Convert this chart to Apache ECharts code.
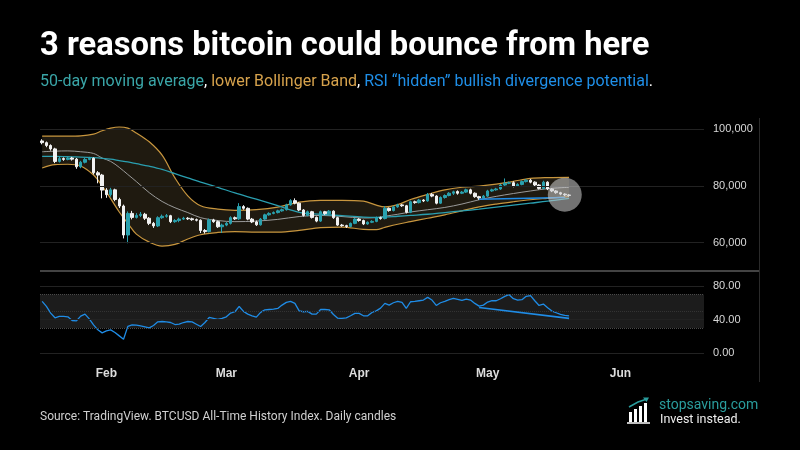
<!DOCTYPE html>
<html lang="en">
<head>
  <meta charset="UTF-8">
  <title>3 reasons bitcoin could bounce from here</title>
  <script src="https://cdn.jsdelivr.net/npm/echarts@6/dist/echarts.min.js"></script>
  <style>
    html, body { margin: 0; background: #000; }
    #main { width: 800px; height: 450px; }
  </style>
</head>
<body>
  <div id="main"></div>

  <script>
    // Daily BTCUSD candles, prices in thousands of USD, first candle 2026-01-17
    const firstDay = '2026-01-17';
    const dayCount = 155; // axis runs on to Jun 20
    const monthNames = ['Jan', 'Feb', 'Mar', 'Apr', 'May', 'Jun', 'Jul', 'Aug', 'Sep', 'Oct', 'Nov', 'Dec'];

    const openK = [95.8, 95.2, 94.2, 93.0, 88.6, 89.6, 89.3, 89.8, 89.4, 86.7,
      88.3, 89.3, 89.7, 84.6, 83.8, 78.5, 76.9, 78.6, 75.2, 72.9,
      62.7, 70.3, 68.9, 69.6, 70.0, 68.6, 66.8, 65.9, 68.8, 69.3,
      69.5, 67.4, 67.8, 68.3, 68.6, 68.4, 68.1, 67.9, 64.3, 63.9,
      68.0, 67.4, 65.6, 66.2, 66.8, 68.8, 68.4, 72.7, 72.1, 68.3,
      67.3, 66.3, 68.3, 69.8, 70.3, 70.6, 71.2, 71.6, 73.3, 74.8,
      73.9, 71.5, 69.6, 70.9, 68.9, 67.6, 70.9, 70.2, 71.1, 68.8,
      66.2, 66.0, 65.7, 66.8, 68.3, 67.8, 66.6, 67.2, 67.5, 68.8,
      68.5, 72.1, 71.3, 72.6, 73.3, 73.0, 70.7, 74.4, 74.1, 75.0,
      74.7, 77.0, 76.4, 73.9, 75.9, 76.6, 77.4, 78.0, 77.4, 77.8,
      78.6, 77.4, 76.2, 75.7, 76.4, 78.2, 78.6, 78.9, 80.3, 80.9,
      81.1, 79.9, 80.5, 81.5, 82.0, 81.3, 80.3, 79.1, 81.3, 78.9,
      78.2, 77.6, 77.1, 76.8];
    const closeK = [95.2, 94.2, 93.0, 88.6, 89.6, 89.3, 89.8, 89.4, 86.7, 88.3,
      89.3, 89.7, 84.6, 83.8, 78.5, 76.9, 78.6, 75.2, 72.9, 62.7,
      70.3, 68.9, 69.6, 70.0, 68.6, 66.8, 65.9, 68.8, 69.3, 69.5,
      67.4, 67.8, 68.3, 68.6, 68.4, 68.1, 67.9, 64.3, 63.9, 68.0,
      67.4, 65.6, 66.2, 66.8, 68.8, 68.4, 72.7, 72.1, 68.3, 67.3,
      66.3, 68.3, 69.8, 70.3, 70.6, 71.2, 71.6, 73.3, 74.8, 73.9,
      71.5, 69.6, 70.9, 68.9, 67.6, 70.9, 70.2, 71.1, 68.8, 66.2,
      66.0, 65.7, 66.8, 68.3, 67.8, 66.6, 67.2, 67.5, 68.8, 68.5,
      72.1, 71.3, 72.6, 73.3, 73.0, 70.7, 74.4, 74.1, 75.0, 74.7,
      77.0, 76.4, 73.9, 75.9, 76.6, 77.4, 77.9, 77.4, 77.8, 78.6,
      77.4, 76.2, 75.7, 76.4, 78.2, 78.6, 78.9, 80.3, 80.9, 81.1,
      79.9, 80.5, 81.5, 82.0, 81.3, 80.3, 79.1, 81.3, 78.9, 78.2,
      77.6, 77.1, 76.8, 76.6];
    const lowK = [94.6, 93.6, 92.4, 88.0, 88.2, 88.8, 89.0, 88.9, 86.0, 86.2,
      87.9, 89.0, 84.0, 80.9, 75.6, 75.8, 76.2, 74.6, 72.2, 61.5,
      59.8, 68.2, 68.5, 69.0, 68.0, 66.2, 65.2, 65.5, 68.4, 68.8,
      66.9, 67.0, 67.2, 68.0, 68.0, 67.7, 67.5, 63.4, 63.2, 63.6,
      67.0, 65.2, 63.4, 65.8, 66.4, 68.0, 68.0, 71.6, 67.9, 66.9,
      65.9, 66.0, 68.0, 69.5, 70.0, 70.3, 70.9, 71.3, 73.0, 73.5,
      71.1, 69.2, 69.3, 68.5, 67.2, 67.3, 69.8, 69.9, 68.4, 65.9,
      65.6, 65.2, 65.4, 66.5, 67.4, 66.2, 66.3, 66.9, 67.2, 68.1,
      68.2, 70.9, 71.0, 72.3, 72.6, 70.3, 70.4, 73.7, 73.8, 74.3,
      74.4, 76.0, 73.5, 73.6, 75.5, 76.3, 76.8, 76.9, 77.1, 77.5,
      77.0, 75.8, 75.1, 75.4, 76.1, 77.9, 78.3, 78.6, 80.0, 80.6,
      79.5, 79.6, 80.2, 81.2, 80.9, 79.9, 78.7, 78.8, 78.5, 77.8,
      77.2, 76.7, 76.4, 76.2];
    const highK = [96.4, 95.6, 94.6, 93.4, 90.2, 90.0, 90.3, 90.2, 89.8, 88.8,
      89.8, 90.2, 90.0, 85.2, 84.2, 79.2, 79.3, 79.0, 75.8, 73.4,
      71.0, 71.2, 70.4, 70.8, 70.5, 69.0, 67.3, 69.3, 69.9, 70.1,
      69.8, 68.3, 68.8, 69.1, 69.0, 68.8, 68.5, 68.2, 64.8, 68.5,
      68.4, 67.8, 66.7, 67.3, 69.3, 69.2, 73.9, 73.2, 72.4, 68.7,
      67.8, 68.7, 70.2, 70.7, 71.0, 71.6, 72.0, 73.7, 75.3, 75.6,
      74.2, 71.8, 71.3, 71.2, 69.2, 71.3, 71.2, 71.5, 71.4, 69.1,
      66.6, 66.3, 67.1, 68.7, 68.6, 68.1, 67.5, 67.9, 69.2, 69.2,
      72.9, 72.4, 73.0, 73.7, 73.6, 73.3, 74.8, 74.8, 75.4, 75.3,
      77.5, 77.5, 76.7, 76.3, 77.0, 77.8, 78.3, 78.4, 78.2, 79.0,
      79.0, 77.7, 76.5, 76.8, 78.6, 79.0, 79.3, 80.7, 82.6, 81.5,
      81.6, 80.9, 81.9, 82.4, 82.4, 81.6, 80.6, 81.8, 81.6, 79.2,
      78.5, 77.9, 77.4, 77.1];

    // RSI(14), one value per candle
    const rsi = [61.7, 55.7, 47.8, 42.2, 43.8, 43.8, 43.4, 39.0, 38.6, 44.2,
      46.6, 41.0, 33.8, 27.9, 24.3, 26.7, 27.9, 24.7, 20.7, 16.7,
      32.0, 33.8, 33.4, 32.6, 31.4, 30.2, 33.0, 37.4, 37.8, 37.4,
      36.6, 34.2, 34.6, 36.6, 37.8, 37.4, 34.6, 31.8, 36.6, 42.6,
      41.4, 40.2, 41.4, 43.4, 47.8, 49.4, 55.7, 49.8, 46.6, 44.6,
      43.0, 48.6, 51.7, 52.1, 52.5, 53.3, 57.3, 60.5, 61.7, 59.3,
      50.5, 49.4, 49.8, 46.6, 46.6, 52.1, 52.1, 51.7, 46.2, 41.8,
      41.4, 42.2, 44.6, 47.4, 47.4, 44.6, 44.6, 48.6, 50.5, 53.7,
      59.3, 57.3, 60.1, 61.7, 60.5, 53.3, 61.3, 61.7, 62.5, 63.3,
      66.5, 63.3, 56.9, 60.1, 61.7, 63.7, 65.3, 64.1, 62.9, 64.5,
      63.3, 59.3, 56.1, 57.3, 60.9, 62.5, 62.5, 64.9, 67.7, 69.7,
      64.9, 63.3, 63.7, 67.7, 68.5, 62.5, 56.9, 58.5, 54.1, 50.2,
      48.2, 46.2, 45.0, 44.6];

    // Bollinger band and moving averages, read at these candle indexes
    const sampleIdx = [0, 3, 6, 9, 12, 14, 16, 18, 20, 22, 25, 28, 31, 34, 37, 41, 45, 50,
      55, 60, 65, 70, 75, 78, 80, 83, 86, 90, 94, 98, 102, 106, 110, 114, 118, 123];
    const upperBand = [97.5, 97.5, 97.5, 97.6, 98.2, 99.4, 100.3, 100.7, 100.3, 98.6, 95.5, 90.8,
      82.8, 76.5, 73.0, 71.8, 71.4, 71.6, 72.5, 74.3, 74.9, 74.9, 74.6, 73.2, 72.6, 73.4,
      75.2, 77.0, 78.6, 79.5, 79.9, 80.6, 81.6, 82.6, 82.9, 83.0];
    const middleBand = [92.0, 92.2, 92.3, 92.0, 91.4, 89.8, 88.6, 86.5, 84.0, 81.5, 77.6, 74.5,
      72.3, 70.6, 68.8, 67.8, 67.4, 67.6, 68.2, 69.2, 69.6, 69.2, 68.7, 68.8, 69.3, 70.0,
      70.8, 71.6, 72.4, 73.6, 75.1, 76.3, 77.3, 78.2, 79.0, 79.5];
    const lowerBand = [86.3, 87.5, 87.6, 87.0, 83.8, 80.0, 75.5, 70.8, 66.8, 63.0, 60.2, 58.8,
      59.4, 61.3, 62.8, 63.6, 63.9, 63.7, 63.7, 64.3, 65.3, 65.5, 64.7, 64.6, 65.4, 66.5,
      67.4, 68.6, 69.8, 71.2, 72.6, 73.6, 74.4, 75.1, 75.6, 76.2];
    const ma50 = [90.4, 90.4, 90.3, 90.1, 89.9, 89.7, 89.4, 88.9, 88.4, 87.8, 86.9, 85.8,
      84.3, 82.8, 81.3, 79.5, 77.5, 75.3, 73.0, 70.7, 70.0, 69.5, 69.0, 68.9, 69.0, 69.3,
      69.6, 70.0, 70.6, 71.2, 71.8, 72.5, 73.2, 73.9, 74.6, 75.6];

    // hidden divergence trend lines and the highlight circle
    const priceDivIdx = [102, 122];
    const priceDivK = [75.3, 75.9];
    const rsiDivIdx = [102, 123];
    const rsiDiv = [54.5, 41.5];
    const circleIdx = 122;
    const circleK = 76.9;

    const priceTicks = [60, 80, 100];
    const rsiTicks = [0, 40, 80];

    // build the day categories
    const days = [];
    const d0 = new Date(firstDay + 'T00:00:00Z');
    for (let i = 0; i < dayCount; i++) {
      days.push(new Date(d0.getTime() + i * 86400000).toISOString().slice(0, 10));
    }

    const candles = openK.map((o, i) => [o, closeK[i], lowK[i], highK[i]]);
    const pairs = vals => sampleIdx.map((d, k) => [d, vals[k]]);
    const bandWidth = sampleIdx.map((d, k) => [d, upperBand[k] - lowerBand[k]]);

    const gold = '#c8963e';
    const teal = '#2a9fb0';
    const blue = '#1f8ce6';
    const gridLine = { color: '#222', type: 'solid', width: 1 };

    let myChart = echarts.init(document.getElementById('main'));

    const options = {
      backgroundColor: '#000',
      animation: false,
      grid: [
        { left: 40, right: 96, top: 114.8, height: 142.1 },
        { left: 40, right: 96, top: 269.2, height: 92.5 }
      ],
      xAxis: [
        { type: 'category', gridIndex: 0, data: days, show: false },
        {
          type: 'category', gridIndex: 1, data: days,
          axisLine: { show: false }, axisTick: { show: false },
          axisLabel: {
            interval: (i, v) => v.slice(8) === '01',
            formatter: v => monthNames[+v.slice(5, 7) - 1],
            color: '#ddd', fontSize: 12, fontWeight: 'bold',
            fontFamily: 'Liberation Sans', margin: 6
          }
        }
      ],
      yAxis: [
        {
          type: 'value', gridIndex: 0, position: 'right',
          min: 55, max: 105, interval: 5,
          splitLine: { show: false }, axisLine: { show: false }, axisTick: { show: false },
          axisLabel: {
            formatter: v => priceTicks.includes(v) ? (v * 1000).toLocaleString('en-US') : '',
            color: '#d8d8d8', fontSize: 11, fontFamily: 'Liberation Sans', margin: 9
          }
        },
        {
          type: 'value', gridIndex: 1, position: 'right',
          min: -10, max: 100, interval: 10,
          splitLine: { show: false }, axisLine: { show: false }, axisTick: { show: false },
          axisLabel: {
            formatter: v => rsiTicks.includes(v) ? v.toFixed(2) : '',
            color: '#d8d8d8', fontSize: 11, fontFamily: 'Liberation Sans', margin: 9
          }
        }
      ],
      series: [
        {
          name: 'Lower band', type: 'line', data: pairs(lowerBand), stack: 'bb', z: 1,
          smooth: 0.35, symbol: 'none', lineStyle: { color: gold, width: 1.2 }
        },
        {
          name: 'Upper band', type: 'line', data: bandWidth, stack: 'bb', z: 1,
          smooth: 0.35, symbol: 'none', lineStyle: { color: gold, width: 1.2 },
          areaStyle: { color: '#1f1a10', opacity: 1 }
        },
        {
          name: 'Basis', type: 'line', data: pairs(middleBand), z: 3,
          smooth: 0.35, symbol: 'none', lineStyle: { color: '#9a9a9a', width: 1 }
        },
        {
          name: '50-day MA', type: 'line', data: pairs(ma50), z: 3,
          smooth: 0.35, symbol: 'none', lineStyle: { color: teal, width: 1.3 }
        },
        {
          name: 'BTCUSD', type: 'candlestick', data: candles, barWidth: '70%', z: 4,
          itemStyle: {
            color: '#2aa1ae', color0: '#f2f2f2',
            borderColor: '#2aa1ae', borderColor0: '#f2f2f2', borderWidth: 1
          },
          markLine: {
            silent: true, symbol: ['none', 'none'], label: { show: false },
            lineStyle: gridLine,
            data: priceTicks.map(v => ({ yAxis: v }))
          }
        },
        {
          name: 'Price divergence', type: 'line', symbol: 'none', z: 5,
          data: priceDivIdx.map((d, k) => [d, priceDivK[k]]),
          lineStyle: { color: blue, width: 1.6 }
        },
        {
          name: 'Highlight', type: 'scatter', symbolSize: 34, z: 10,
          data: [[circleIdx, circleK]],
          itemStyle: { color: 'rgba(200,200,200,0.72)' }
        },
        {
          name: 'RSI', type: 'line', xAxisIndex: 1, yAxisIndex: 1, data: rsi, z: 4,
          symbol: 'none', lineStyle: { color: blue, width: 1.3 },
          markArea: {
            silent: true, itemStyle: { color: '#1c1c1c' },
            data: [[{ yAxis: 30 }, { yAxis: 70 }]]
          },
          markLine: {
            silent: true, symbol: ['none', 'none'], label: { show: false },
            data: [
              ...rsiTicks.map(v => ({ yAxis: v, lineStyle: gridLine })),
              { yAxis: 70, lineStyle: { color: '#4a4a4a', type: 'dotted', width: 1 } },
              { yAxis: 30, lineStyle: { color: '#4a4a4a', type: 'dotted', width: 1 } },
              { yAxis: 50, lineStyle: { color: '#333', type: 'dotted', width: 1 } }
            ]
          }
        },
        {
          name: 'RSI divergence', type: 'line', xAxisIndex: 1, yAxisIndex: 1, symbol: 'none', z: 5,
          data: rsiDivIdx.map((d, k) => [d, rsiDiv[k]]),
          lineStyle: { color: blue, width: 1.6 }
        }
      ],
      graphic: [
        {
          type: 'text', x: 40, y: 47,
          style: {
            text: '3 reasons bitcoin could bounce from here', fill: '#fff',
            font: 'bold 32.7px Roboto', textVerticalAlign: 'middle'
          }
        },
        {
          type: 'text', x: 40, y: 82,
          style: {
            text: '{t|50-day moving average}{w|, }{g|lower Bollinger Band}{w|, }{b|RSI \u201chidden\u201d bullish divergence potential}{w|.}',
            textVerticalAlign: 'middle',
            rich: {
              t: { fill: '#3aa6a8', fontSize: 16, fontFamily: 'Roboto' },
              w: { fill: '#fff', fontSize: 16, fontFamily: 'Roboto' },
              g: { fill: '#d6a24c', fontSize: 16, fontFamily: 'Roboto' },
              b: { fill: '#1f8fe8', fontSize: 16, fontFamily: 'Roboto' }
            }
          }
        },
        {
          type: 'text', x: 40, y: 417,
          style: {
            text: 'Source: TradingView. BTCUSD All-Time History Index. Daily candles',
            fill: '#d0d0d0', font: '12px Roboto', textVerticalAlign: 'middle'
          }
        },
        // pane borders
        { type: 'line', shape: { x1: 40, y1: 271, x2: 760, y2: 271 }, style: { stroke: '#5a5a5a', lineWidth: 1.5 } },
        { type: 'line', shape: { x1: 759.5, y1: 118, x2: 759.5, y2: 382 }, style: { stroke: '#2a2a2a', lineWidth: 1 } },
        // stopsaving.com logo
        { type: 'rect', shape: { x: 629, y: 412, width: 3, height: 10 }, style: { fill: '#fff' } },
        { type: 'rect', shape: { x: 634, y: 409, width: 3, height: 13 }, style: { fill: '#fff' } },
        { type: 'rect', shape: { x: 639, y: 406, width: 3, height: 16 }, style: { fill: '#fff' } },
        { type: 'rect', shape: { x: 644, y: 403, width: 3, height: 19 }, style: { fill: '#fff' } },
        { type: 'line', shape: { x1: 627, y1: 423, x2: 650, y2: 423 }, style: { stroke: '#fff', lineWidth: 1.5 } },
        { type: 'polyline', shape: { points: [[629, 407], [638, 402], [647, 399]] }, style: { stroke: '#2a9d9d', lineWidth: 1.5, fill: null } },
        { type: 'polygon', shape: { points: [[649, 397.5], [643, 397.5], [646.5, 402]] }, style: { fill: '#2a9d9d' } },
        {
          type: 'text', x: 659, y: 405,
          style: { text: 'stopsaving.com', fill: '#2a9d9d', font: '14px Roboto', textVerticalAlign: 'middle' }
        },
        {
          type: 'text', x: 660, y: 420,
          style: { text: 'Invest instead.', fill: '#eee', font: '12.5px Roboto', textVerticalAlign: 'middle' }
        }
      ]
    };

    myChart.setOption(options);
  </script>
</body>
</html>
